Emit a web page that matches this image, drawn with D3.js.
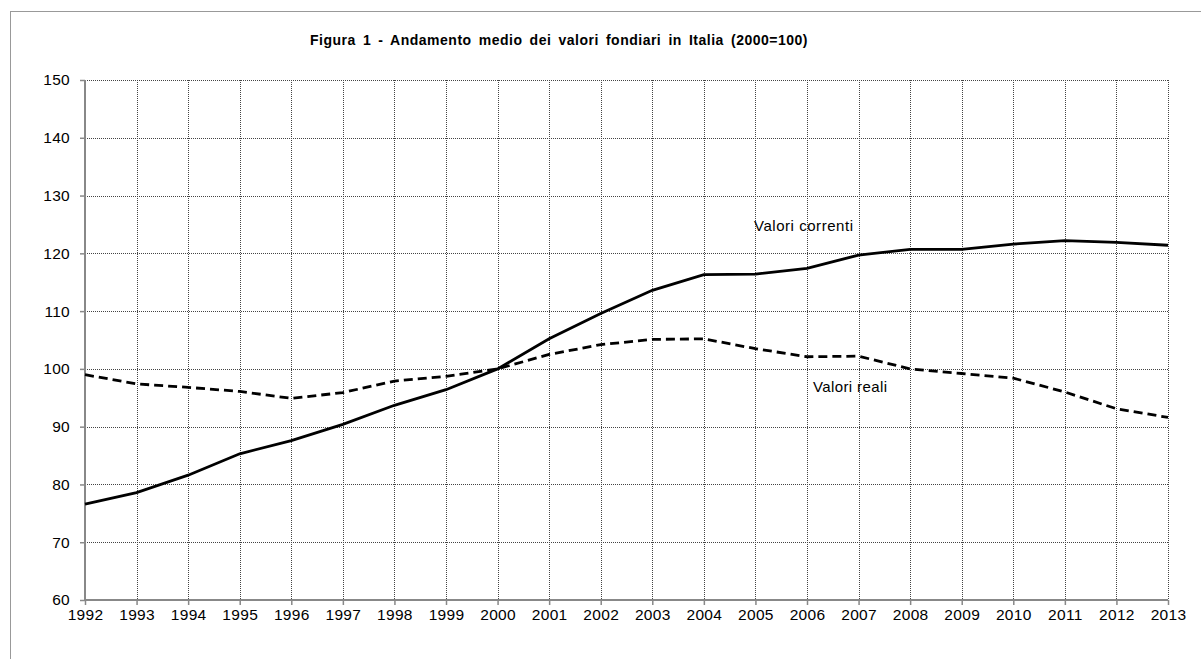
<!DOCTYPE html>
<html>
<head>
<meta charset="utf-8">
<script src="https://cdn.jsdelivr.net/npm/d3@7"></script>
<style>
  body { margin: 0; background: #fff; }
  text { font-family: "Liberation Sans", Arial, sans-serif; fill: #000; }
</style>
</head>
<body>
<script>
// anni e valori (2000=100)
var years = [1992, 1993, 1994, 1995, 1996, 1997, 1998, 1999, 2000, 2001, 2002,
             2003, 2004, 2005, 2006, 2007, 2008, 2009, 2010, 2011, 2012, 2013];
var valoriCorrenti = [76.6, 78.6, 81.6, 85.3, 87.6, 90.4, 93.7, 96.4, 100.0, 105.2, 109.6,
                      113.6, 116.3, 116.4, 117.4, 119.7, 120.7, 120.7, 121.6, 122.2, 121.9, 121.4];
var valoriReali = [99.0, 97.4, 96.8, 96.1, 94.9, 95.9, 97.9, 98.7, 100.0, 102.5, 104.2,
                   105.1, 105.2, 103.5, 102.1, 102.2, 100.0, 99.2, 98.4, 96.0, 93.1, 91.6];
var yTicks = [60, 70, 80, 90, 100, 110, 120, 130, 140, 150];

var width = 1201, height = 659;
var svg = d3.select("body").append("svg").attr("width", width).attr("height", height);

// cornice grigia
svg.append("rect").attr("x", 10.5).attr("y", 11.5).attr("width", 1300).attr("height", 700)
    .attr("fill", "none").attr("stroke", "#999").attr("stroke-width", 1);

var x = d3.scaleLinear().domain([1992, 2013]).range([85, 1168]);
var y = d3.scaleLinear().domain([60, 150]).range([600, 80]);

// titolo: spazi larghi fra le parole come nell'originale
var title = svg.append("text").attr("x", 310).attr("y", 45)
    .style("font-size", "14px").style("font-weight", "bold").style("letter-spacing", "0.5px")
    .text("Figura 1 - Andamento medio dei valori fondiari in Italia (2000=100)");
var natLen = title.node().getComputedTextLength();
title.style("word-spacing", Math.max(0, (498 - natLen) / 10) + "px");

// griglia tratteggiata
var grid = svg.append("g");
grid.selectAll("hline").data(yTicks.filter(function (d) { return d > 60; })).enter()
    .append("line")
    .attr("x1", x(1992)).attr("x2", x(2013))
    .attr("y1", function (d) { return Math.round(y(d)) + 0.5; })
    .attr("y2", function (d) { return Math.round(y(d)) + 0.5; })
    .attr("stroke", "#444").attr("stroke-width", 1).attr("stroke-dasharray", "1,1");
grid.selectAll("vline").data(years.slice(1)).enter()
    .append("line")
    .attr("x1", function (d) { return Math.round(x(d)) + 0.5; })
    .attr("x2", function (d) { return Math.round(x(d)) + 0.5; })
    .attr("y1", y(150)).attr("y2", y(60))
    .attr("stroke", "#444").attr("stroke-width", 1).attr("stroke-dasharray", "1,1");

// assi
var yAxis = svg.append("g").attr("transform", "translate(" + x(1992) + ",0)")
    .call(d3.axisLeft(y).tickValues(yTicks).tickSize(5).tickPadding(10));
var xAxis = svg.append("g").attr("transform", "translate(0," + y(60) + ")")
    .call(d3.axisBottom(x).tickValues(years).tickFormat(d3.format("d")).tickSize(5).tickPadding(4));

[yAxis, xAxis].forEach(function (ax) {
    ax.select(".domain").attr("stroke", "#888").attr("stroke-width", 2);
    ax.selectAll(".tick line").attr("stroke", "#888").attr("stroke-width", 1.5);
    ax.selectAll(".tick text").style("font-size", "15.5px").style("letter-spacing", "0.3px")
        .style("font-family", "'Liberation Sans', Arial, sans-serif").attr("fill", "#111");
});
yAxis.select(".domain").attr("d", "M0," + y(150) + "V" + y(60));
xAxis.select(".domain").attr("d", "M" + x(1992) + ",0H" + x(2013));

// linee
var line = d3.line().x(function (d) { return x(d[0]); }).y(function (d) { return y(d[1]); });

svg.append("path").datum(d3.zip(years, valoriReali))
    .attr("d", line).attr("fill", "none").attr("stroke", "#000")
    .attr("stroke-width", 2.8).attr("stroke-dasharray", "9,5");

svg.append("path").datum(d3.zip(years, valoriCorrenti))
    .attr("d", line).attr("fill", "none").attr("stroke", "#000")
    .attr("stroke-width", 2.8);

// etichette serie
svg.append("text").attr("x", 754).attr("y", 231).attr("textLength", 99)
    .style("font-size", "15px").text("Valori correnti");
svg.append("text").attr("x", 813).attr("y", 392).attr("textLength", 74)
    .style("font-size", "15px").text("Valori reali");
</script>
</body>
</html>
